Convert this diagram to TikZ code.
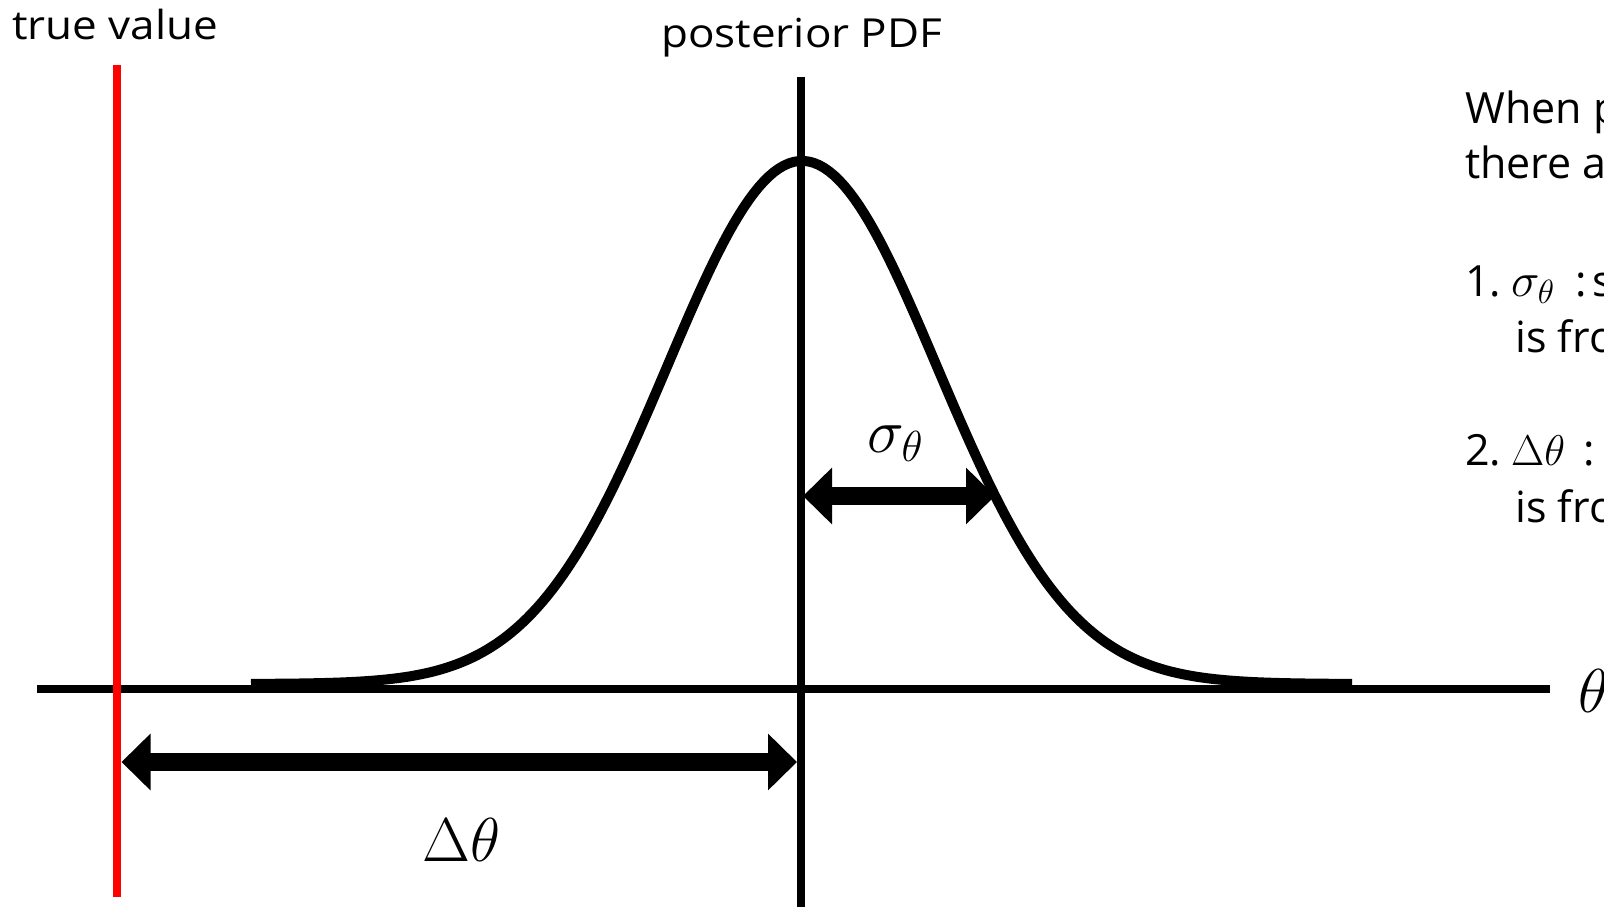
\RequirePackage{fix-cm}
\documentclass[tikz,border=0pt]{standalone}
\usepackage{fontspec}
\setmainfont{Open Sans}
\newfontfamily\lblfont[FakeStretch=1.1]{Open Sans}
\usetikzlibrary{arrows.meta}
\tikzset{
  axisline/.style={line width=8pt, black},
  trueline/.style={line width=8pt, red},
  pdfcurve/.style={line width=10pt, black, line join=round},
  dimarrow/.style={line width=18pt, {Triangle[length=29pt,width=55pt]}-{Triangle[length=29pt,width=55pt]}},
  lbl/.style={anchor=base west, inner sep=0pt, font=\lblfont\fontsize{40}{48}\selectfont},
  note/.style={anchor=base west, inner sep=0pt, font=\fontsize{43}{52}\selectfont},
  bigmath/.style={anchor=base west, inner sep=0pt, font=\fontsize{62}{74}\selectfont},
}
\begin{document}
\begin{tikzpicture}[x=1pt,y=-1pt]
\clip (0,0) rectangle (1604,907);
\fill[white] (0,0) rectangle (1604,907);
% coordinates
\coordinate (axl) at (37,688.7);
\coordinate (axr) at (1550,688.7);
\coordinate (redtop) at (117,65);
\coordinate (redbot) at (117,897);
\coordinate (pdftop) at (800.7,77);
\coordinate (pdfbot) at (800.7,910);
\coordinate (dl) at (121.5,762);
\coordinate (dr) at (797,762);
\coordinate (sl) at (803,496);
\coordinate (sr) at (995,496);
% axis and lines
\draw[axisline] (axl) -- (axr);
\draw[trueline] (redtop) -- (redbot);
\draw[axisline] (pdftop) -- (pdfbot);
% gaussian
\draw[pdfcurve] plot[domain=251:1352, samples=220] (\x, {684 - 523*exp(-((\x-802)/135)^2/2)});
% arrows
\draw[dimarrow] (dl) -- (dr);
\draw[dimarrow] (sl) -- (sr);
% labels
\node[lbl] (tv) at (12,40) {true value};
\node[lbl] (pp) at (661,48) {posterior PDF};
\node[bigmath] (dt) at (422,861) {$\Delta\theta$};
\node[bigmath] (st) at (867,452) {$\sigma_\theta$};
\node[bigmath] (th) at (1578,712) {$\theta$};
% notes
\node[note] (n1) at (1465,123) {When p};
\node[note] (n2) at (1465,178) {there a};
\node[note] (n3) at (1465,296) {1.\hspace{10pt}{\fontsize{48}{52}\selectfont$\sigma_\theta$}\hspace{21pt}:\hspace{5pt}s};
\node[note] (n4) at (1515,352) {is fro};
\node[note] (n5) at (1465,465) {2.\hspace{10pt}$\Delta\theta$\hspace{18pt}:};
\node[note] (n6) at (1515,522) {is fro};
\end{tikzpicture}
\end{document}
